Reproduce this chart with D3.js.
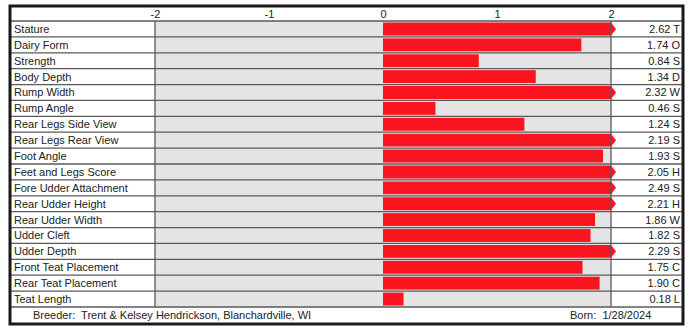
<!DOCTYPE html>
<html><head><meta charset="utf-8">
<script src="https://cdn.jsdelivr.net/npm/d3@7"></script>
<style>body{margin:0;background:#fff}svg{display:block}text{font-family:"Liberation Sans",Arial,sans-serif;fill:#222}</style>
</head><body><svg id="c" width="690" height="328"></svg>
<script>
const traits = ["Stature","Dairy Form","Strength","Body Depth","Rump Width","Rump Angle","Rear Legs Side View","Rear Legs Rear View","Foot Angle","Feet and Legs Score","Fore Udder Attachment","Rear Udder Height","Rear Udder Width","Udder Cleft","Udder Depth","Front Teat Placement","Rear Teat Placement","Teat Length"];
const values = [2.62,1.74,0.84,1.34,2.32,0.46,1.24,2.19,1.93,2.05,2.49,2.21,1.86,1.82,2.29,1.75,1.90,0.18];
const codes = ["T","O","S","D","W","S","S","S","S","H","S","H","W","S","S","C","C","L"];
const ticks = [-2,-1,0,1,2];
const breeder = "Breeder:  Trent & Kelsey Hendrickson, Blanchardville, WI";
const born = "Born:  1/28/2024";

const svg = d3.select("#c");
const L=10, R=683, T=6, B=324;
const x = d3.scaleLinear().domain([-2,2]).range([155,611]);
const y = d3.scaleBand().domain(traits).range([21,307]);

svg.append("rect").attr("x",L).attr("y",T).attr("width",R-L).attr("height",B-T).attr("fill","#fff");
svg.append("rect").attr("x",x(-2)).attr("y",y.range()[0]).attr("width",x(2)-x(-2)).attr("height",y.range()[1]-y.range()[0]).attr("fill","#e4e4e4");

const g = svg.append("g");
traits.forEach((t,i)=>{
  const v = values[i];
  const top = y(t)+1.5, h = y.bandwidth()-3, x0 = x(0);
  if (v > 2) {
    const x2 = x(2);
    g.append("path").attr("fill","#fa1420")
     .attr("d",`M${x0},${top}H${x2}L${x2+5},${top+h/2}L${x2},${top+h}H${x0}Z`);
  } else {
    g.append("rect").attr("x",x0).attr("y",top).attr("width",x(v)-x0).attr("height",h).attr("fill","#fa1420");
  }
});

const lines = svg.append("g").attr("stroke","#5a5a5a").attr("stroke-width",1.3);
traits.concat([null]).forEach((t)=>{
  const yy = t ? y(t) : y.range()[1];
  lines.append("line").attr("x1",L).attr("x2",R).attr("y1",yy).attr("y2",yy);
});
lines.append("line").attr("x1",x(-2)).attr("x2",x(-2)).attr("y1",y.range()[0]).attr("y2",y.range()[1]);
lines.append("line").attr("x1",x(2)).attr("x2",x(2)).attr("y1",y.range()[0]).attr("y2",y.range()[1]);

const ax = svg.append("g").attr("transform",`translate(0,18)`)
  .call(d3.axisTop(x).tickValues(ticks).tickSize(0).tickPadding(0).tickFormat(d=>String(d)));
ax.select(".domain").remove();
ax.selectAll("text").attr("font-size",11).attr("fill","#222").style("font-family","Liberation Sans, Arial, sans-serif");

svg.append("g").selectAll("text").data(traits).join("text")
  .attr("x",14).attr("y",d=>y(d)+y.bandwidth()/2).attr("dy","0.36em")
  .attr("font-size",11).text(d=>d);
svg.append("g").selectAll("text").data(traits).join("text")
  .attr("x",680).attr("y",d=>y(d)+y.bandwidth()/2).attr("dy","0.36em")
  .attr("text-anchor","end").attr("font-size",11)
  .text((d,i)=>values[i].toFixed(2)+" "+codes[i]);

svg.append("text").attr("x",33).attr("y",319).attr("font-size",11).text(breeder).style("white-space","pre");
svg.append("text").attr("x",570).attr("y",319).attr("font-size",11).text(born).style("white-space","pre");

svg.append("rect").attr("x",L).attr("y",T).attr("width",R-L).attr("height",B-T)
  .attr("fill","none").attr("stroke","#1a1a1a").attr("stroke-width",3);
</script></body></html>
